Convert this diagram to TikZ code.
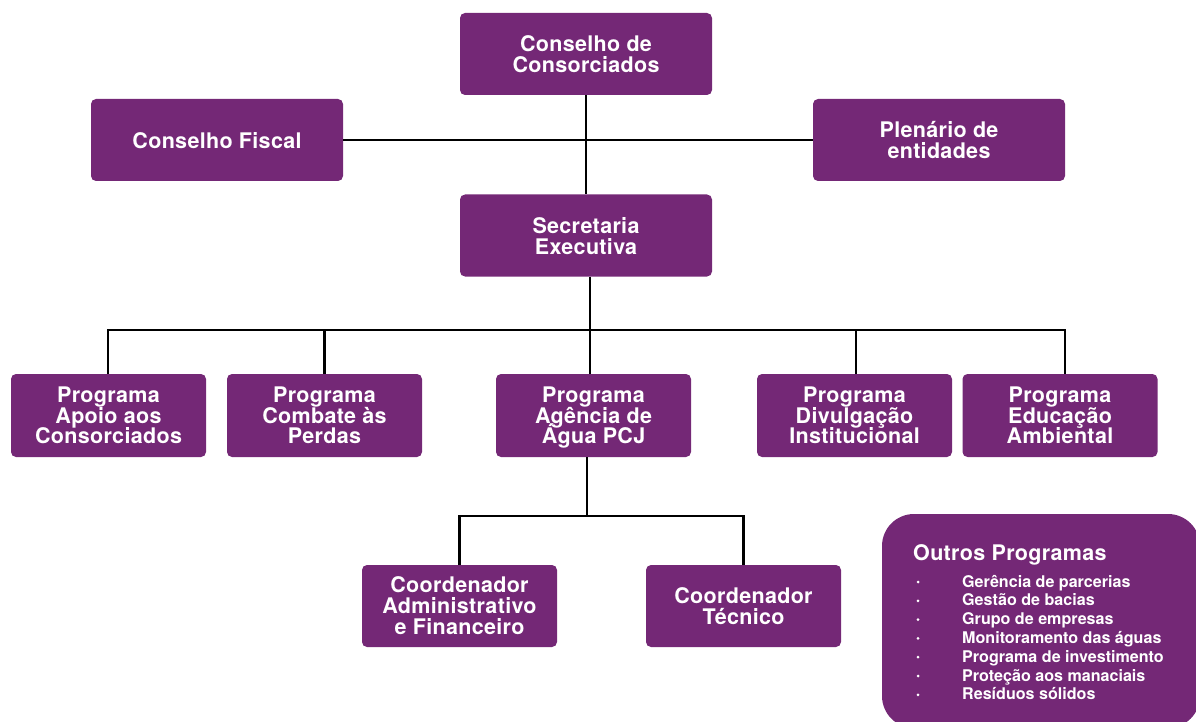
\documentclass[tikz,border=0pt]{standalone}
\usepackage{fontspec}
\setmainfont{TeX Gyre Heros}
\newfontfamily\boxfont[LetterSpace=1.5]{TeX Gyre Heros}
\definecolor{orgpurple}{HTML}{742876}
% fixed line pitch even when accents meet descenders
\setlength{\lineskiplimit}{-\maxdimen}
\tikzset{
  orgbox/.style={fill=orgpurple, rounded corners=5pt, text=white, align=center,
    inner sep=0pt, font=\boxfont\bfseries\fontsize{21.5}{21}\selectfont},
  % a fixed text depth keeps the last line at the same place in every box
  topbox/.style={orgbox, minimum width=252pt, minimum height=82pt, text depth=-2.5pt},
  onelinebox/.style={orgbox, minimum width=252pt, minimum height=82pt, text depth=-2pt},
  progbox/.style={orgbox, minimum width=195pt, minimum height=83pt, text depth=-1.5pt,
    font=\boxfont\bfseries\fontsize{21.5}{20.5}\selectfont},
  coordbox/.style={orgbox, minimum width=195pt, minimum height=82pt, text depth=-1.5pt},
  link/.style={draw=black, line width=2.6pt},
  itemtext/.style={text=white, inner sep=0pt, anchor=base west,
    font=\bfseries\fontsize{16.1}{18}\selectfont},
}
\begin{document}
\begin{tikzpicture}[x=1pt, y=-1pt]
  \useasboundingbox (0,0) rectangle (1196,722);
  \clip (0,0) rectangle (1196,722);

  % top level
  \node[topbox] (cc)  at (586,54)    {Conselho de\\Consorciados};
  \node[onelinebox] (cf)  at (217,140)   {Conselho Fiscal};
  \node[topbox] (pe)  at (939,140)   {Plenário de\\entidades};
  \node[topbox] (sec) at (586,235.5) {Secretaria\\Executiva};

  % programmes
  \node[progbox] (apo) at (108.5,415.5)  {Programa\\Apoio aos\\Consorciados};
  \node[progbox] (com) at (324.5,415.5)  {Programa\\Combate às\\Perdas};
  \node[progbox] (age) at (593.5,415.5)  {Programa\\Agência de\\Água PCJ};
  \node[progbox] (div) at (854.5,415.5)  {Programa\\Divulgação\\Institucional};
  \node[progbox] (edu) at (1060,415.5)   {Programa\\Educação\\Ambiental};

  % coordinators
  \node[coordbox] (adm) at (459.5,606) {Coordenador\\Administrativo\\e Financeiro};
  \node[coordbox] (tec) at (743.5,606) {Coordenador\\Técnico};

  % junction points
  \coordinate (jS) at (590,330);
  \coordinate (jL) at (108,330);
  \coordinate (jR) at (1065,330);
  \coordinate (jA) at (587,516);

  % connectors
  \draw[link] (cc.south) -- (sec.north);
  \draw[link] (cf.east) -- (pe.west);
  \draw[link] (jS |- sec.south) -- (jS);
  \draw[link] (jL |- apo.north) -- (jL) -- (jR) -- (jR |- edu.north);
  \draw[link] (com.north) -- (com.north |- jS);
  \draw[link] (jS) -- (jS |- age.north);
  \draw[link] (div.north -| 856,0) -- (jS -| 856,0);
  \draw[link] (jA |- age.south) -- (jA);
  \draw[link] (adm.north) |- (jA) -| (tec.north);

  % other programmes panel
  \fill[orgpurple, rounded corners=32pt] (882,514) rectangle (1200,728);
  \node[text=white, inner sep=0pt, anchor=base west,
    font=\boxfont\bfseries\fontsize{21.5}{21}\selectfont] (outros) at (913,560) {Outros Programas};
  \foreach \t [count=\i] in {Gerência de parcerias, Gestão de bacias, Grupo de empresas,
      Monitoramento das águas, Programa de investimento, Proteção aos manaciais,
      Resíduos sólidos} {
    \node[itemtext] (item\i) at (962, 587+18.8*\i-18.8) {\t};
    \fill[white] (918, 582+18.8*\i-18.8) circle (1.5pt);
  }
\end{tikzpicture}
\end{document}
